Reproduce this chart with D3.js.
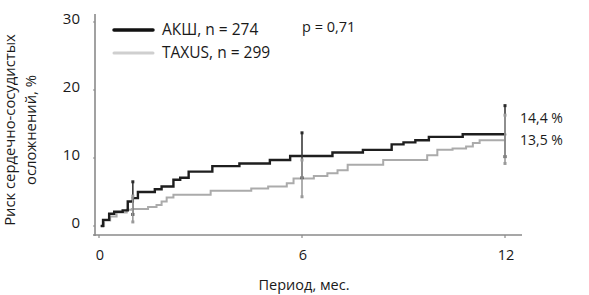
<!DOCTYPE html>
<html>
<head>
<meta charset="utf-8">
<script src="https://cdn.jsdelivr.net/npm/d3@7"></script>
<style>
  html, body { margin: 0; padding: 0; background: #fff; }
  svg { display: block; font-family: "Open Sans", "Noto Sans", sans-serif; }
  .tick-lbl { font-size: 14px; fill: #1a1a1a; }
</style>
</head>
<body>
<div id="chart"></div>
<script>
// Kaplan–Meier style cumulative risk curves, months -> %
const akshT = [0.05, 0.12, 0.3, 0.45, 0.7, 0.85, 1.0, 1.15, 1.65, 1.85, 2.2, 2.4, 2.65, 3.35, 4.15, 5.05, 5.65, 6.9, 7.8, 8.65, 9.0, 9.35, 9.75, 10.75, 12.0];
const akshV = [0, 0.9, 1.8, 2.1, 2.3, 3.6, 4.1, 5.0, 5.4, 5.8, 6.8, 7.1, 8.0, 8.8, 9.2, 9.7, 10.3, 10.8, 11.2, 12.0, 12.3, 12.6, 13.1, 13.5, 13.6];
const taxusT = [0.05, 0.15, 0.33, 0.52, 0.82, 0.97, 1.45, 1.7, 1.85, 2.0, 2.2, 3.3, 4.5, 5.0, 5.55, 5.75, 6.35, 6.75, 7.05, 7.35, 8.4, 9.7, 10.0, 10.45, 10.85, 11.05, 11.25, 12.0];
const taxusV = [0, 0.8, 1.4, 2.0, 2.4, 2.5, 2.8, 3.1, 3.6, 4.2, 4.6, 5.2, 5.5, 5.8, 6.3, 7.0, 7.35, 7.75, 8.2, 9.0, 9.7, 10.4, 11.2, 11.4, 11.7, 12.2, 12.6, 12.75];

// error bars: time, centre, low, high
const akshErr = [[1.0, 4.1, 1.7, 6.5], [6.0, 10.4, 7.1, 13.7], [12.0, 13.6, 10.2, 17.7]];
const taxusErr = [[1.0, 2.5, 0.6, 4.4], [6.0, 7.0, 4.3, 9.7], [12.0, 12.75, 9.2, 16.3]];

const xTicks = [0, 6, 12];
const yTicks = [0, 10, 20, 30];
const seriesNames = ["АКШ, n = 274", "TAXUS, n = 299"];
const endLabels = ["14,4 %", "13,5 %"];
const pText = "p = 0,71";

const W = 589, H = 295;
const svg = d3.select("#chart").append("svg").attr("width", W).attr("height", H);

const x = d3.scaleLinear().domain([0, 12]).range([99, 505]);
const y = d3.scaleLinear().domain([0, 30]).range([226, 22]);

const AX = "#8a8a8a";
// axes lines
svg.append("line").attr("x1", 95).attr("x2", 95).attr("y1", 14).attr("y2", 236)
  .attr("stroke", AX).attr("stroke-width", 1.6);
svg.append("line").attr("x1", 93).attr("x2", 522).attr("y1", 235).attr("y2", 235)
  .attr("stroke", AX).attr("stroke-width", 1.6);

// y ticks + labels
svg.selectAll("text.yl").data(yTicks).join("text")
  .attr("class", "tick-lbl yl")
  .attr("x", 80).attr("y", d => y(d) - 3).attr("dy", "0.35em")
  .attr("text-anchor", "end").style("font-size", "15px").text(d => d);
svg.selectAll("line.yt").data(yTicks).join("line")
  .attr("x1", 93).attr("x2", 95).attr("y1", d => y(d)).attr("y2", d => y(d))
  .attr("stroke", AX).attr("stroke-width", 1.2);

// x ticks + labels
svg.selectAll("line.xt").data(xTicks).join("line")
  .attr("x1", d => x(d)).attr("x2", d => x(d)).attr("y1", 235).attr("y2", 238)
  .attr("stroke", AX).attr("stroke-width", 1.2);
svg.selectAll("text.xl").data(xTicks).join("text")
  .attr("class", "tick-lbl xl")
  .attr("x", d => x(d) + 1).attr("y", 260)
  .attr("text-anchor", "middle").style("font-size", "14.5px").text(d => d);

svg.append("text").attr("x", 304).attr("y", 290).attr("text-anchor", "middle")
  .style("font-size", "14.5px").attr("fill", "#1a1a1a").text("Период, мес.");

const yl = svg.append("text").attr("transform", "translate(0,130) rotate(-90)")
  .attr("text-anchor", "middle").style("font-size", "14.8px").attr("fill", "#1a1a1a");
yl.append("tspan").attr("x", 0).attr("y", 15).text("Риск сердечно-сосудистых");
yl.append("tspan").attr("x", 0).attr("y", 36).text("осложнений, %");

// curves
const line = d3.line().x(d => x(d[0])).y(d => y(d[1])).curve(d3.curveStepAfter);
const series = [
  { t: taxusT, v: taxusV, err: taxusErr, color: "#ababab", w: 2 },
  { t: akshT, v: akshV, err: akshErr, color: "#1e1e1e", w: 2.4 },
];
series.forEach(s => {
  const pts = s.t.map((t, i) => [t, s.v[i]]);
  svg.append("path").datum(pts).attr("d", line)
    .attr("fill", "none").attr("stroke", s.color).attr("stroke-width", s.w);
});

// error bars (drawn after curves)
[series[1], series[0]].forEach((s, k) => {
  const g = svg.append("g");
  g.selectAll("line.eb").data(s.err).join("line")
    .attr("x1", d => x(d[0])).attr("x2", d => x(d[0]))
    .attr("y1", d => y(d[2])).attr("y2", d => y(d[3]))
    .attr("stroke", k === 0 ? "#3a3a3a" : "#9a9a9a").attr("stroke-width", 1.6);
  g.selectAll("rect.cap").data(s.err.flatMap(d => [[d[0], d[2]], [d[0], d[3]]])).join("rect")
    .attr("x", d => x(d[0]) - 1.5).attr("y", d => y(d[1]) - 1.5)
    .attr("width", 3).attr("height", 3).attr("fill", k === 0 ? "#2a2a2a" : "#9a9a9a");
});

// end labels
svg.append("text").attr("x", 520).attr("y", 123).style("font-size", "14px")
  .attr("fill", "#1a1a1a").text(endLabels[0]);
svg.append("text").attr("x", 520).attr("y", 145).style("font-size", "14px")
  .attr("fill", "#1a1a1a").text(endLabels[1]);

// legend
const leg = [{ c: "#111", w: 3.5, y: 30 }, { c: "#cfcfcf", w: 3, y: 53 }];
leg.forEach((l, i) => {
  svg.append("line").attr("x1", 114).attr("x2", 153).attr("y1", l.y).attr("y2", l.y)
    .attr("stroke", l.c).attr("stroke-width", l.w).attr("stroke-linecap", "round");
  svg.append("text").attr("x", 162).attr("y", l.y + 5).style("font-size", "15.5px")
    .attr("fill", "#1a1a1a").text(seriesNames[i]);
});
svg.append("text").attr("x", 302).attr("y", 32).style("font-size", "14.5px")
  .attr("fill", "#1a1a1a").text(pText);
</script>
</body>
</html>
